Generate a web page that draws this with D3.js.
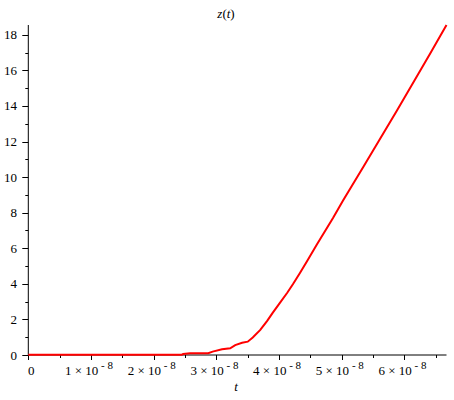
<!DOCTYPE html>
<html><head><meta charset="utf-8">
<script src="https://cdn.jsdelivr.net/npm/d3@7"></script>
<style>body{margin:0;background:#fff}svg{display:block}text{font-family:"Liberation Serif","Times New Roman",serif}</style>
</head><body>
<script>
// data: time t (s) and z(t)
const tValues = [0, 2.45e-8, 2.47e-8, 2.58e-8, 2.87e-8, 2.94e-8, 3.09e-8, 3.22e-8, 3.30e-8, 3.41e-8, 3.50e-8, 3.58e-8, 3.70e-8, 3.81e-8, 3.90e-8, 4.01e-8, 4.13e-8, 4.22e-8, 4.33e-8, 4.45e-8, 4.60e-8, 4.86e-8, 5.02e-8, 5.34e-8, 5.88e-8, 6.41e-8, 6.67e-8];
const zValues = [0.02, 0.02, 0.06, 0.1, 0.1, 0.19, 0.32, 0.38, 0.56, 0.69, 0.75, 0.98, 1.41, 1.92, 2.38, 2.92, 3.5, 3.98, 4.6, 5.3, 6.2, 7.7, 8.68, 10.56, 13.75, 16.95, 18.55];
const xMajorTicks = [0, 1e-8, 2e-8, 3e-8, 4e-8, 5e-8, 6e-8];
const xTickMantissa = ["0", "1", "2", "3", "4", "5", "6"];
const xMinorTicks = [0.5e-8, 1.5e-8, 2.5e-8, 3.5e-8, 4.5e-8, 5.5e-8, 6.5e-8];
const yMajorTicks = [0, 2, 4, 6, 8, 10, 12, 14, 16, 18];
const yMinorTicks = [1, 3, 5, 7, 9, 11, 13, 15, 17];

const W = 454, H = 400;
const svg = d3.select("body").append("svg").attr("width", W).attr("height", H);
const x = d3.scaleLinear().domain([0, 6.67e-8]).range([28.3, 446.5]);
const y = d3.scaleLinear().domain([0, 18.55]).range([355, 25]);

// axes lines
svg.append("line").attr("x1", x(0)).attr("x2", x(6.67e-8)).attr("y1", y(0)).attr("y2", y(0)).attr("stroke", "#000");
svg.append("line").attr("x1", x(0)).attr("x2", x(0)).attr("y1", y(0)).attr("y2", y(18.55)).attr("stroke", "#000");

// x ticks
svg.selectAll(".xmaj").data(xMajorTicks).enter().append("line")
  .attr("x1", d => Math.round(x(d)) + 0.5).attr("x2", d => Math.round(x(d)) + 0.5)
  .attr("y1", y(0)).attr("y2", y(0) + 5).attr("stroke", "#000");
svg.selectAll(".xmin").data(xMinorTicks).enter().append("line")
  .attr("x1", d => Math.round(x(d)) + 0.5).attr("x2", d => Math.round(x(d)) + 0.5)
  .attr("y1", y(0)).attr("y2", y(0) + 3).attr("stroke", "#000");
xMajorTicks.forEach((d, i) => {
  const t = svg.append("text").attr("y", 375).attr("font-size", 13).attr("fill", "#000");
  if (i === 0) {
    t.attr("x", x(d) + 3).attr("text-anchor", "middle").text("0");
  } else {
    t.attr("x", x(d) - 2).attr("text-anchor", "middle");
    t.append("tspan").text(xTickMantissa[i] + " \u00d7 10");
    t.append("tspan").attr("dy", -6).attr("font-size", 11).text(" - 8");
  }
});

// y ticks
svg.selectAll(".ymaj").data(yMajorTicks).enter().append("line")
  .attr("x1", x(0) - 6).attr("x2", x(0))
  .attr("y1", d => Math.round(y(d)) + 0.5).attr("y2", d => Math.round(y(d)) + 0.5).attr("stroke", "#000");
svg.selectAll(".ymin").data(yMinorTicks).enter().append("line")
  .attr("x1", x(0) - 3).attr("x2", x(0))
  .attr("y1", d => Math.round(y(d)) + 0.5).attr("y2", d => Math.round(y(d)) + 0.5).attr("stroke", "#000");
svg.selectAll(".ylab").data(yMajorTicks).enter().append("text")
  .attr("x", 17).attr("y", d => y(d) + 4.5).attr("text-anchor", "end")
  .attr("font-size", 13).text(d => d);

// curve
const pts = tValues.map((t, i) => [t, zValues[i]]);
svg.append("path").datum(pts)
  .attr("d", d3.line().x(d => x(d[0])).y(d => y(d[1])))
  .attr("fill", "none").attr("stroke", "#ff0000").attr("stroke-width", 2);

// title
const title = svg.append("text").attr("x", 226).attr("y", 18).attr("text-anchor", "middle")
  .attr("font-size", 13);
title.append("tspan").attr("font-style", "italic").text("z");
title.append("tspan").text("(");
title.append("tspan").attr("font-style", "italic").text("t");
title.append("tspan").text(")");

// x label
svg.append("text").attr("x", 236).attr("y", 391).attr("text-anchor", "middle")
  .attr("font-size", 13).attr("font-style", "italic").text("t");
</script>
</body></html>
